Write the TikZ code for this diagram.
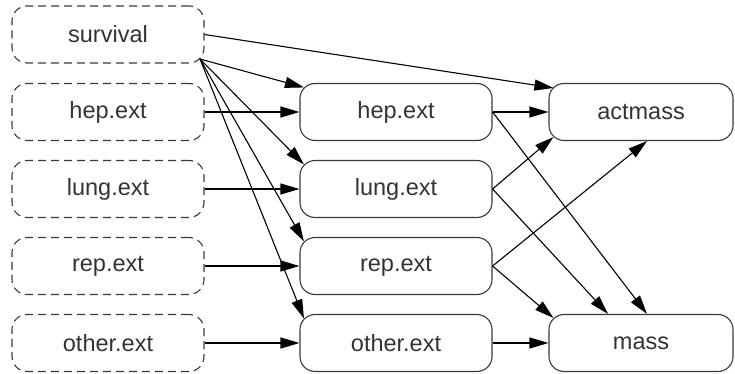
\documentclass[tikz,border=0pt]{standalone}
\usepackage{fontspec}
\setmainfont{Liberation Sans}
\usetikzlibrary{arrows.meta,calc}
\definecolor{txt}{HTML}{333333}
\definecolor{frame}{HTML}{3A3A3A}
\tikzset{
  box/.style={draw=frame,line width=1.1pt,rounded corners=15pt,minimum height=57pt,
    inner sep=0pt,text=txt,font=\fontsize{23.5}{26}\selectfont},
  inbox/.style={box,dashed,dash pattern=on 8pt off 5pt,minimum width=192pt},
  midbox/.style={box,minimum width=192pt},
  outbox/.style={box,minimum width=184pt},
  conn/.style={line width=1.1pt,-{Triangle[length=19pt,width=11pt]}}
}
\begin{document}
\begin{tikzpicture}[x=1pt,y=-1pt]
\useasboundingbox (0,0) rectangle (735,374);
% left (dashed) column
\node[inbox] (s)  at (108,34.5) {survival};
\node[inbox] (h0) at (108,112) {hep.ext};
\node[inbox] (l0) at (108,189) {lung.ext};
\node[inbox] (r0) at (108,266) {rep.ext};
\node[inbox] (o0) at (108,343) {other.ext};
% middle column
\node[midbox] (h1) at (396,112) {hep.ext};
\node[midbox] (l1) at (396,189) {lung.ext};
\node[midbox] (r1) at (396,266) {rep.ext};
\node[midbox] (o1) at (396,343) {other.ext};
% right column
\node[outbox] (am) at (641,112) {actmass};
\node[outbox] (ms) at (641,343) {mass};
% corner points
\coordinate (sse) at ($(s.south east)+(-4.5,-4.5)$);
% survival edges
\draw[conn] (s.east) -- ($(am.north west)+(5,5)$);
\draw[conn] (sse) -- ($(h1.north west)+(4.5,4.5)$);
\draw[conn] (sse) -- ($(l1.north west)+(4.5,4.5)$);
\draw[conn] (sse) -- ($(r1.north west)+(4.5,4.5)$);
\draw[conn] (sse) -- ($(o1.north west)+(4.5,4.5)$);
% straight edges
\draw[conn] (h0) -- (h1);
\draw[conn] (l0) -- (l1);
\draw[conn] (r0) -- (r1);
\draw[conn] (o0) -- (o1);
\draw[conn] (h1) -- (am);
\draw[conn] (o1) -- (ms);
% crossing edges
\draw[conn] (h1.east) -- ($(ms.north)+(6,0)$);
\draw[conn] (l1.east) -- ($(am.south west)+(5,-4)$);
\draw[conn] (l1.east) -- ($(ms.north)+(-33,0)$);
\draw[conn] (r1.east) -- ($(am.south)+(6,0)$);
\draw[conn] (r1.east) -- ($(ms.north west)+(5,4)$);
\end{tikzpicture}
\end{document}
